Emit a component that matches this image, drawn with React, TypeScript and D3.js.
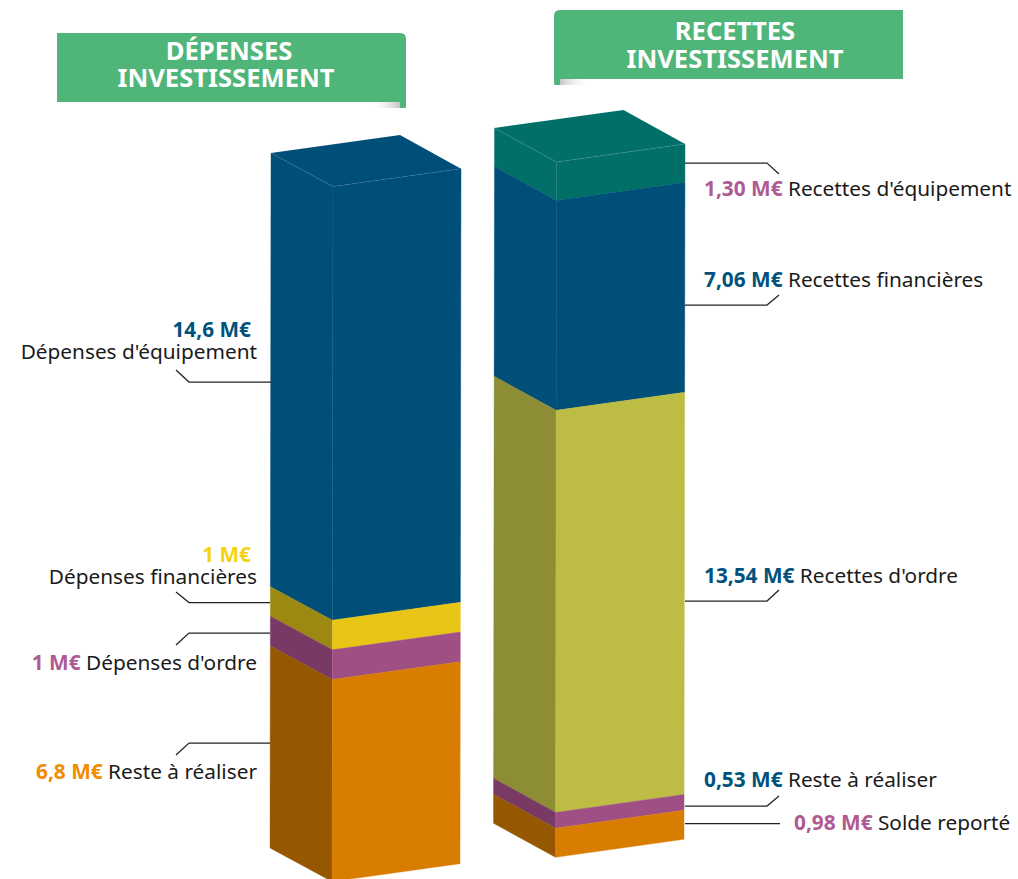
import React from "react";
import * as d3 from "d3";

// ---- data ----
const depensesValues = [14.6, 1, 1, 6.8];
const depensesNames = ["Dépenses d'équipement", "Dépenses financières", "Dépenses d'ordre", "Reste à réaliser"];
const depensesLabels = ["14,6 M€", "1 M€", "1 M€", "6,8 M€"];
const recettesValues = [1.3, 7.06, 13.54, 0.53, 0.98];
const recettesNames = ["Recettes d'équipement", "Recettes financières", "Recettes d'ordre", "Reste à réaliser", "Solde reporté"];
const recettesLabels = ["1,30 M€", "7,06 M€", "13,54 M€", "0,53 M€", "0,98 M€"];
const depensesTitle = ["DÉPENSES", "INVESTISSEMENT"];
const recettesTitle = ["RECETTES", "INVESTISSEMENT"];

// ---- style ----
const BLUE = { front: "#004f78", side: "#004f78" };
const TEAL = { front: "#006f68", side: "#006f68" };
const YELLOW = { front: "#e8c516", side: "#9d8812" };
const PURPLE = { front: "#a04f85", side: "#783a64" };
const ORANGE = { front: "#d87d00", side: "#955700" };
const OLIVE = { front: "#bdbc44", side: "#8c8d34" };
const depensesFill = [BLUE, YELLOW, PURPLE, ORANGE];
const recettesFill = [TEAL, BLUE, OLIVE, PURPLE, ORANGE];
const depensesInk = ["#00527c", "#f5d311", "#b05a94", "#f08c00"];
const recettesInk = ["#b05a94", "#00527c", "#00527c", "#00527c", "#b05a94"];

const FONT = "'Noto Sans', sans-serif";
const LABEL_SIZE = 20.8;

type Box = { x: number; top: number; dx1: number; dy1: number; dx2: number; dy2: number; bx: number; by: number };
const leftBox: Box = { x: 271, top: 153, dx1: 62, dy1: 33.5, dx2: 190, dy2: 15.7, bx: 129, by: -18 };
const rightBox: Box = { x: 494.5, top: 128, dx1: 62, dy1: 34, dx2: 190.5, dy2: 16, bx: 129, by: -18 };

// value → pixels, shared by both columns
const height = d3.scaleLinear().domain([0, 23.4]).range([0, 695]);
const lean = d3.scaleLinear().domain([0, 23.4]).range([0, -1]);
const poly = d3.line();

function Column({ box, values, fills }: { box: Box; values: number[]; fills: { front: string; side: string }[] }) {
  const stack = d3.cumsum(values);
  const at = (v: number) => ({ x: box.x + lean(v), y: box.top + height(v) });
  const faces = values.map((_, i) => {
    const a = at(i === 0 ? 0 : stack[i - 1]);
    const b = at(stack[i]);
    const side = poly([[a.x, a.y], [a.x + box.dx1, a.y + box.dy1], [b.x + box.dx1, b.y + box.dy1], [b.x, b.y]]) + "Z";
    const front = poly([[a.x + box.dx1, a.y + box.dy1], [a.x + box.dx2, a.y + box.dy2], [b.x + box.dx2, b.y + box.dy2], [b.x + box.dx1, b.y + box.dy1]]) + "Z";
    return { side, front, fill: fills[i] };
  });
  const t = at(0);
  const top = poly([[t.x, t.y], [t.x + box.bx, t.y + box.by], [t.x + box.dx2, t.y + box.dy2], [t.x + box.dx1, t.y + box.dy1]]) + "Z";
  const firstEnd = at(values[0]);
  return (
    <g>
      <path d={top} fill={fills[0].front} />
      {faces.map((f, i) => (
        <g key={i}>
          <path d={f.side} fill={f.fill.side} stroke={f.fill.side} strokeWidth={0.4} />
          <path d={f.front} fill={f.fill.front} stroke={f.fill.front} strokeWidth={0.4} />
        </g>
      ))}
      <path
        d={poly([[t.x, t.y], [t.x + box.dx1, t.y + box.dy1], [t.x + box.dx2, t.y + box.dy2]]) as string}
        fill="none" stroke="#ffffff" strokeOpacity={0.14} strokeWidth={0.7}
      />
      <path
        d={poly([[t.x + box.dx1, t.y + box.dy1], [firstEnd.x + box.dx1, firstEnd.y + box.dy1]]) as string}
        fill="none" stroke="#ffffff" strokeOpacity={0.08} strokeWidth={0.7}
      />
    </g>
  );
}

function Banner({ x, y, lines, foldRight, cx, base }: { x: number; y: number; lines: string[]; foldRight: boolean; cx: number[]; base: number[] }) {
  const w = 349, h = 69, r = 6, fold = 6;
  const id = foldRight ? "foldR" : "foldL";
  const body = foldRight
    ? `M${x},${y}H${x + w - r}Q${x + w},${y} ${x + w},${y + r}V${y + h + fold - 1}Q${x + w},${y + h + fold} ${x + w - 2},${y + h + fold}H${x + w - 6}V${y + h}H${x}Z`
    : `M${x + w},${y}H${x + r}Q${x},${y} ${x},${y + r}V${y + h + fold - 1}Q${x},${y + h + fold} ${x + 2},${y + h + fold}H${x + 6}V${y + h}H${x + w}Z`;
  return (
    <g>
      <defs>
        <linearGradient id={id} x1={foldRight ? "1" : "0"} x2={foldRight ? "0" : "1"} y1="0" y2="0">
          <stop offset="0" stopColor="#c4c4c4" />
          <stop offset="1" stopColor="#ffffff" stopOpacity={0} />
        </linearGradient>
      </defs>
      <rect x={foldRight ? x + w - 36 : x + 6} y={y + h} width={30} height={fold} fill={`url(#${id})`} />
      <path d={body} fill="#50b578" />
      {lines.map((l, i) => (
        <text key={i} x={cx[i]} y={base[i]} textAnchor="middle" fill="#ffffff"
          fontFamily={FONT} fontWeight={700} fontSize={25.6}>{l}</text>
      ))}
    </g>
  );
}

const Leader = ({ pts }: { pts: [number, number][] }) => (
  <path d={poly(pts) as string} fill="none" stroke="#222222" strokeWidth={1.25} />
);

const depensesLeaders: [number, number][][] = [
  [[176, 370], [189, 382], [271, 382]],
  [[176, 592], [189, 602.5], [270, 602.5]],
  [[176, 645], [189, 633], [270, 633]],
  [[176, 755], [189, 743], [270, 743]],
];
const recettesLeaders: [number, number][][] = [
  [[685, 163], [767, 163], [779, 174]],
  [[685, 305], [767, 305], [779, 295]],
  [[685, 601], [767, 601], [779, 590]],
  [[685, 806], [767, 806], [779, 796]],
  [[685, 823.5], [780, 823.5]],
];
// text placement: [value baseline, name baseline] when on two lines
const depensesBase = [[337, 359], [562, 584], [670, 670], [779, 779]];
const recettesBase = [196, 287, 583, 787, 830];
const recettesX = [704, 704, 704, 704, 794];

export default function App() {
  return (
    <svg width={1018} height={879} viewBox="0 0 1018 879"
      style={{ position: "absolute", left: 0, top: 0, display: "block", background: "#ffffff" }}>
      <Banner x={57} y={33} lines={depensesTitle} foldRight={true} cx={[229, 226]} base={[60, 87]} />
      <Banner x={554} y={10} lines={recettesTitle} foldRight={false} cx={[735, 735]} base={[40, 67.5]} />

      <Column box={leftBox} values={depensesValues} fills={depensesFill} />
      <Column box={rightBox} values={recettesValues} fills={recettesFill} />

      {depensesLeaders.map((p, i) => <Leader key={i} pts={p} />)}
      {recettesLeaders.map((p, i) => <Leader key={i} pts={p} />)}

      {depensesNames.map((name, i) => {
        const [vy, ny] = depensesBase[i];
        if (vy !== ny) {
          return (
            <g key={name} fontFamily={FONT} fontSize={LABEL_SIZE} textAnchor="end">
              <text x={251} y={vy} fontWeight={700} fill={depensesInk[i]}>{depensesLabels[i]}</text>
              <text x={257} y={ny} fill="#1a1a1a">{name}</text>
            </g>
          );
        }
        return (
          <text key={name} x={257} y={ny} fontFamily={FONT} fontSize={LABEL_SIZE} textAnchor="end" fill="#1a1a1a">
            <tspan fontWeight={700} fill={depensesInk[i]}>{depensesLabels[i]}</tspan> {name}
          </text>
        );
      })}
      {recettesNames.map((name, i) => (
        <text key={name} x={recettesX[i]} y={recettesBase[i]} fontFamily={FONT} fontSize={LABEL_SIZE} fill="#1a1a1a">
          <tspan fontWeight={700} fill={recettesInk[i]}>{recettesLabels[i]}</tspan> {name}
        </text>
      ))}
    </svg>
  );
}
